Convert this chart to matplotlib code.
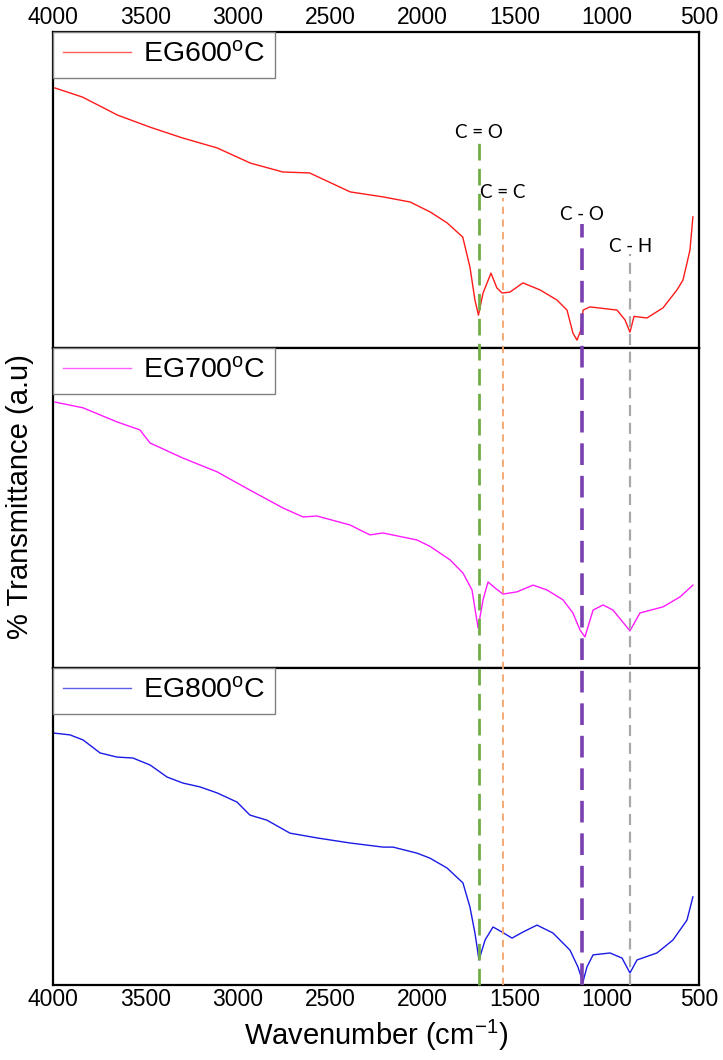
import matplotlib
matplotlib.use("Agg")
import matplotlib.pyplot as plt
from matplotlib.lines import Line2D
from matplotlib.transforms import blended_transform_factory

plt.rcParams['font.family'] = ['Liberation Sans', 'DejaVu Sans']
plt.rcParams['mathtext.fontset'] = 'custom'
plt.rcParams['mathtext.rm'] = 'Liberation Sans'
plt.rcParams['mathtext.it'] = 'Liberation Sans'

# ---------------- data ----------------
wn_600 = [3990, 3840, 3650, 3475, 3300, 3110, 2930, 2755, 2610, 2390, 2210, 2065,
          1955, 1865, 1780, 1741, 1714, 1695, 1670, 1627, 1595, 1567, 1524, 1454,
          1362, 1270, 1215, 1183, 1161, 1140, 1128, 1091, 944, 901, 874, 852, 782,
          695, 619, 587, 565, 549, 533]
tr_600 = [82.3, 79.4, 73.7, 69.9, 66.5, 63.3, 58.5, 55.7, 55.4, 49.4, 47.8, 46.2,
          43.0, 39.6, 35.1, 25.6, 15.2, 10.4, 17.4, 23.7, 19.0, 17.4, 17.7, 20.6,
          18.4, 15.2, 12.0, 4.7, 2.5, 5.7, 12.0, 13.0, 12.0, 8.9, 5.0, 10.0, 9.5,
          12.7, 18.4, 21.5, 26.9, 31.0, 41.5]

wn_700 = [3989, 3837, 3653, 3529, 3474, 3296, 3111, 2933, 2754, 2645, 2570, 2391,
          2283, 2212, 2028, 1957, 1849, 1779, 1730, 1697, 1670, 1643, 1605, 1562,
          1486, 1399, 1324, 1237, 1183, 1145, 1118, 1074, 1020, 966, 874, 820, 695,
          603, 533]
tr_700 = [83.1, 81.3, 76.9, 74.4, 70.3, 65.6, 61.3, 55.6, 50.0, 47.2, 47.5, 44.7,
          41.6, 42.2, 40.0, 38.0, 33.8, 29.7, 24.4, 12.5, 21.3, 26.9, 25.0, 23.1,
          23.8, 25.9, 24.4, 21.3, 17.2, 11.9, 9.7, 18.1, 19.7, 18.1, 11.6, 17.2,
          19.1, 22.2, 25.9]

wn_800 = [4000, 3908, 3837, 3745, 3653, 3567, 3474, 3382, 3296, 3204, 3111, 3003,
          2933, 2841, 2716, 2570, 2391, 2212, 2158, 2028, 1957, 1865, 1779, 1741,
          1714, 1692, 1659, 1616, 1567, 1513, 1454, 1378, 1291, 1199, 1156, 1129,
          1107, 1074, 982, 917, 874, 836, 728, 641, 565, 533]
tr_800 = [79.5, 78.9, 77.3, 73.2, 71.9, 71.6, 69.4, 65.6, 63.7, 62.5, 60.6, 57.7,
          53.6, 52.0, 47.9, 46.4, 44.8, 43.5, 43.5, 41.6, 40.0, 36.9, 32.2, 24.6,
          16.4, 7.9, 14.2, 18.3, 16.7, 14.8, 16.7, 18.9, 16.4, 11.0, 5.7, 0.9,
          5.7, 9.5, 10.1, 8.5, 3.8, 7.9, 10.1, 14.2, 20.5, 27.8]

series_labels = ['EG600$^{\\mathrm{o}}$C', 'EG700$^{\\mathrm{o}}$C', 'EG800$^{\\mathrm{o}}$C']
series_colors = ['#ff1a1a', '#ff1aff', '#1a1ae6']

band_labels = ['C = O', 'C = C', 'C - O', 'C - H']
band_wn = [1692, 1564, 1136, 872]
band_colors = ['#70ad47', '#f4a46a', '#7a3fb0', '#a8a8a8']
band_lw = [2.0, 1.3, 2.6, 1.6]
band_dash = [(6, 3), (4, 3), (6, 3), (5, 3)]
band_text_y = [133, 192, 215, 246]     # pixel rows of the labels
band_line_top = [143, 198, 224, 254]

xticks = [4000, 3500, 3000, 2500, 2000, 1500, 1000, 500]

# ---------------- figure ----------------
W, H = 723, 1060
fig = plt.figure(figsize=(W / 100, H / 100), dpi=100)

panel_px = [(32, 348), (348, 668), (668, 985)]
left, right = 53 / W, 699 / W
axes = []
for (t, b) in panel_px:
    ax = fig.add_axes([left, 1 - b / H, right - left, (b - t) / H])
    axes.append(ax)

data = [(wn_600, tr_600), (wn_700, tr_700), (wn_800, tr_800)]
for i, ax in enumerate(axes):
    x, y = data[i]
    ax.plot(x, y, color=series_colors[i], lw=1.0, label=series_labels[i])
    ax.set_xlim(4000, 500)
    ax.set_ylim(0, 100)
    ax.set_yticks([])
    ax.set_xticks(xticks)
    ax.tick_params(axis='x', length=0, labelsize=16.5, pad=2)
    for s in ax.spines.values():
        s.set_linewidth(1.6)
        s.set_color('black')
    if i == 0:
        ax.tick_params(axis='x', labeltop=True, labelbottom=False)
    elif i == 2:
        ax.tick_params(axis='x', labeltop=False, labelbottom=True)
    else:
        ax.tick_params(axis='x', labeltop=False, labelbottom=False)
    leg = ax.legend(loc='upper left', fontsize=20.5, frameon=True, fancybox=False,
                    borderaxespad=0, borderpad=0.35, handlelength=2.4,
                    handletextpad=0.4, framealpha=1)
    leg.get_frame().set_edgecolor('#808080')
    leg.get_frame().set_linewidth(1.0)
    for lh in leg.get_lines():
        lh.set_linewidth(1.0)
        lh.set_alpha(0.7)

axes[2].set_xlabel('Wavenumber (cm$^{\\mathrm{-1}}$)', fontsize=21, labelpad=5)
fig.text(0.028, 1 - 497 / H, '% Transmittance (a.u)', rotation=90, fontsize=21,
         ha='center', va='center')

# dashed band lines spanning the panels
trans = blended_transform_factory(axes[2].transData, fig.transFigure)
bottom_y = 1 - 985 / H
for k in range(len(band_wn)):
    ln = Line2D([band_wn[k], band_wn[k]], [bottom_y, 1 - band_line_top[k] / H],
                transform=trans, color=band_colors[k], lw=band_lw[k],
                linestyle=(0, band_dash[k]), zorder=5)
    fig.add_artist(ln)
    fig.text(band_wn[k], 1 - band_text_y[k] / H, band_labels[k],
             transform=trans, ha='center', va='center', fontsize=13.5,
             family=['Lato', 'DejaVu Sans'])

fig.savefig('out.png', dpi=100)
